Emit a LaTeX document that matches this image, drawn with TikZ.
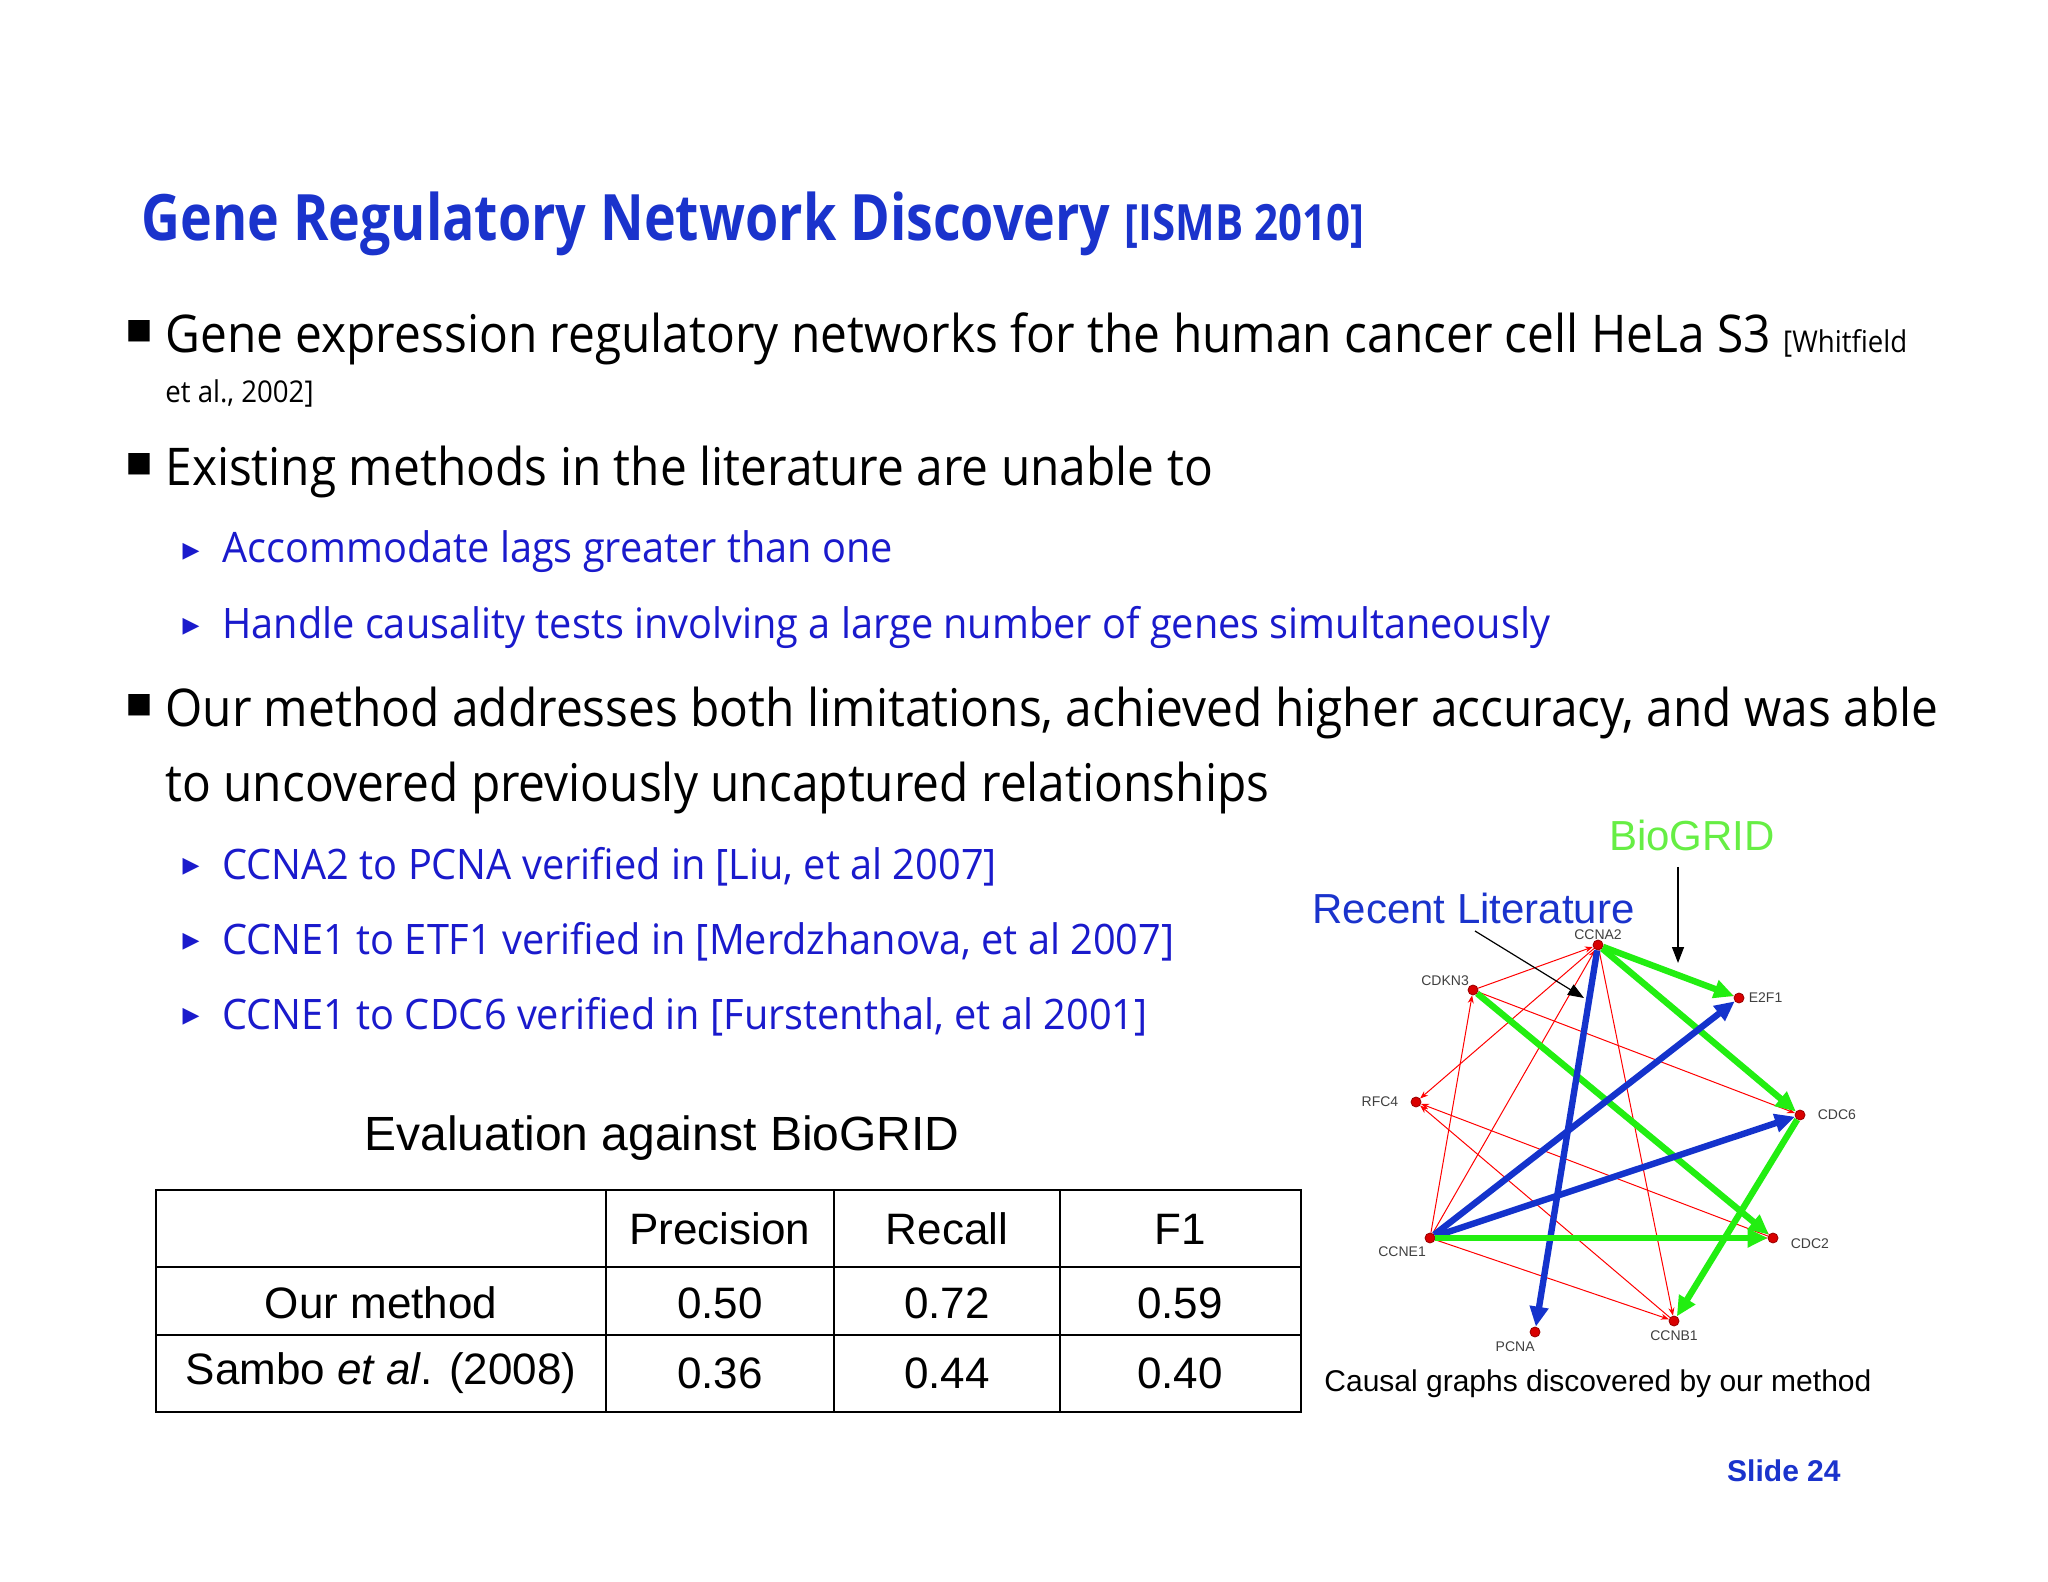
\documentclass[tikz,border=0pt]{standalone}
\usepackage{fontspec}
\setmainfont{Open Sans}
\newfontfamily\arial{Liberation Sans}
\newfontfamily\djv{DejaVu Sans}
\usetikzlibrary{arrows.meta}
\definecolor{tblue}{HTML}{1A33CC}
\definecolor{sblue}{HTML}{1A1ACC}
\definecolor{bgreen}{HTML}{22EE11}
\definecolor{gblue}{HTML}{1433CC}
\definecolor{lgreen}{HTML}{66EE44}
\newcommand{\sxa}[1]{\scalebox{0.92}[1]{#1}}
\newcommand{\sxb}[1]{\scalebox{0.945}[1]{#1}}
\begin{document}
\begin{tikzpicture}[x=0.5pt,y=-0.5pt,
  txt/.style={anchor=west,inner sep=0pt,font=\fontsize{26}{30}\selectfont},
  sub/.style={anchor=west,inner sep=0pt,text=sblue,font=\fontsize{21}{25}\selectfont},
  sq/.style={anchor=center,inner sep=0pt,font=\fontsize{14}{14}\selectfont},
  tri/.style={anchor=center,inner sep=0pt,text=sblue,font=\djv\fontsize{11}{11}\selectfont},
  cell/.style={inner sep=0pt,font=\arial\fontsize{22}{26}\selectfont},
  gn/.style={circle,fill=red!85!black,draw=red!60!black,inner sep=0pt,minimum size=5pt},
  gl/.style={inner sep=0pt,font=\arial\fontsize{7}{8}\selectfont,text=black!75},
  redge/.style={draw=red,line width=0.5pt,-{Stealth[length=4pt,width=3pt]}},
  grn/.style={draw=bgreen,line width=3.2pt,-{Triangle[length=10pt,width=9pt]}},
  blu/.style={draw=gblue,line width=3.2pt,-{Triangle[length=10pt,width=9pt]}}]
\useasboundingbox (0,0) rectangle (2048,1582);
\fill[white] (0,0) rectangle (2048,1582);
% title
\node[anchor=west,inner sep=0pt,text=tblue,font=\fontsize{32}{36}\selectfont\bfseries] (title) at (141,224) {\scalebox{0.84}[1]{Gene Regulatory Network Discovery \fontsize{25}{30}\selectfont [ISMB 2010]}};
% bullets
\node[sq] (b1) at (139,331) {\djv ■};
\node[txt] (t1) at (165,339) {\sxa{Gene expression regulatory networks for the human cancer cell HeLa S3 \fontsize{15}{18}\selectfont[Whitfield}};
\node[anchor=west,inner sep=0pt,font=\fontsize{15}{18}\selectfont] (t1b) at (165,393) {\sxa{et al., 2002]}};
\node[sq] (b2) at (139,464) {\djv ■};
\node[txt] (t2) at (165,472) {\sxa{Existing methods in the literature are unable to}};
\node[tri] (s1t) at (191,552) {▶};
\node[sub] (s1) at (222,552) {\sxb{Accommodate lags greater than one}};
\node[tri] (s2t) at (191,627) {▶};
\node[sub] (s2) at (222,627) {\sxb{Handle causality tests involving a large number of genes simultaneously}};
\node[sq] (b3) at (139,705) {\djv ■};
\node[txt] (t3) at (165,713) {\sxa{Our method addresses both limitations, achieved higher accuracy, and was able}};
\node[txt] (t3b) at (165,788) {\sxa{to uncovered previously uncaptured relationships}};
\node[tri] (s3t) at (191,867) {▶};
\node[sub] (s3) at (222,867) {\sxb{CCNA2 to PCNA verified in [Liu, et al 2007]}};
\node[tri] (s4t) at (191,942) {▶};
\node[sub] (s4) at (222,942) {\sxb{CCNE1 to ETF1 verified in [Merdzhanova, et al 2007]}};
\node[tri] (s5t) at (191,1017) {▶};
\node[sub] (s5) at (222,1017) {\sxb{CCNE1 to CDC6 verified in [Furstenthal, et al 2001]}};
% table
\node[cell,font=\arial\fontsize{24}{28}\selectfont] (evt) at (662,1138) {Evaluation against BioGRID};
\draw[line width=1.2pt] (156,1190) rectangle (1301,1412);
\draw[line width=1.2pt] (156,1267) -- (1301,1267) (156,1335) -- (1301,1335)
  (606,1190) -- (606,1412) (834,1190) -- (834,1412) (1060,1190) -- (1060,1412);
\node[cell] (h1) at (720,1229) {Precision};
\node[cell] (h2) at (947,1229) {Recall};
\node[cell] (h3) at (1180,1229) {F1};
\node[cell] (r1) at (381,1303) {Our method};
\node[cell] (r1a) at (720,1303) {0.50};
\node[cell] (r1b) at (947,1303) {0.72};
\node[cell] (r1c) at (1180,1303) {0.59};
\node[cell] (r2) at (381,1373) {Sambo \textit{et al}. (2008)};
\node[cell] (r2a) at (720,1373) {0.36};
\node[cell] (r2b) at (947,1373) {0.44};
\node[cell] (r2c) at (1180,1373) {0.40};
% graph nodes
\node[gn] (ccna2) at (1598,945) {};
\node[gn] (cdkn3) at (1473,990) {};
\node[gn] (e2f1) at (1739,998) {};
\node[gn] (rfc4) at (1416,1102) {};
\node[gn] (cdc6) at (1800,1115) {};
\node[gn] (ccne1) at (1430,1238) {};
\node[gn] (cdc2) at (1773,1238) {};
\node[gn] (ccnb1) at (1674,1321) {};
\node[gn] (pcna) at (1535,1332) {};
\node[gl,anchor=south] at (ccna2.north) {CCNA2};
\node[gl,anchor=south east] at (cdkn3.north west) {CDKN3};
\node[gl,anchor=west] at ([xshift=2pt]e2f1.east) {E2F1};
\node[gl,anchor=east] at ([xshift=-6pt]rfc4.west) {RFC4};
\node[gl,anchor=west] at ([xshift=6pt]cdc6.east) {CDC6};
\node[gl,anchor=north east] at ([yshift=-2pt]ccne1.south west) {CCNE1};
\node[gl,anchor=west] at ([xshift=6pt,yshift=-3pt]cdc2.east) {CDC2};
\node[gl,anchor=north] at ([yshift=-2pt]ccnb1.south) {CCNB1};
\node[gl,anchor=north east] at ([yshift=-2pt]pcna.south) {PCNA};
% red edges
\draw[redge] (cdkn3) -- (ccna2);
\draw[redge] (ccne1) -- (ccna2);
\draw[redge] (ccne1) -- (cdkn3);
\draw[redge] (ccna2) -- (rfc4);
\draw[redge] (ccna2) -- (ccnb1);
\draw[redge] (cdkn3) -- (cdc6);
\draw[redge] (cdkn3) -- (cdc2);
\draw[redge] (cdc2) -- (rfc4);
\draw[redge] (ccnb1) -- (rfc4);
\draw[redge] (ccne1) -- (ccnb1);
\draw[redge] (ccne1) -- (cdc2);
\draw[redge] (ccna2) -- (e2f1);
% thick edges
\draw[grn] (ccna2) -- (e2f1);
\draw[grn] (ccna2) -- (cdc6);
\draw[grn] (cdkn3) -- (cdc2);
\draw[grn] (cdc6) -- (ccnb1);
\draw[blu] (ccna2) -- (pcna);
\draw[blu] (ccne1) -- (e2f1);
\draw[blu] (ccne1) -- (cdc6);
\draw[grn] (ccne1) -- (cdc2);
% labels and pointers
\node[anchor=west,inner sep=0pt,text=tblue,font=\arial\fontsize{21}{25}\selectfont] (rl) at (1312,908) {Recent Literature};
\node[anchor=center,inner sep=0pt,text=lgreen,font=\arial\fontsize{21}{25}\selectfont] (bg) at (1692,835) {BioGRID};
\coordinate (rlp) at (1584,998);
\coordinate (bgp) at (1678,963);
\draw[-{Triangle[length=8pt,width=6pt]},line width=0.6pt] (1475,931) -- (rlp);
\draw[-{Triangle[length=8pt,width=6pt]},line width=0.6pt] ([yshift=-8pt]bg.south -| bgp) -- (bgp);
\node[anchor=west,inner sep=0pt,font=\arial\fontsize{15}{18}\selectfont] (cap) at (1324,1384) {Causal graphs discovered by our method};
\node[anchor=east,inner sep=0pt,text=tblue,font=\arial\fontsize{15}{18}\selectfont\bfseries] (slide) at (1841,1471) {Slide 24};
\end{tikzpicture}
\end{document}
